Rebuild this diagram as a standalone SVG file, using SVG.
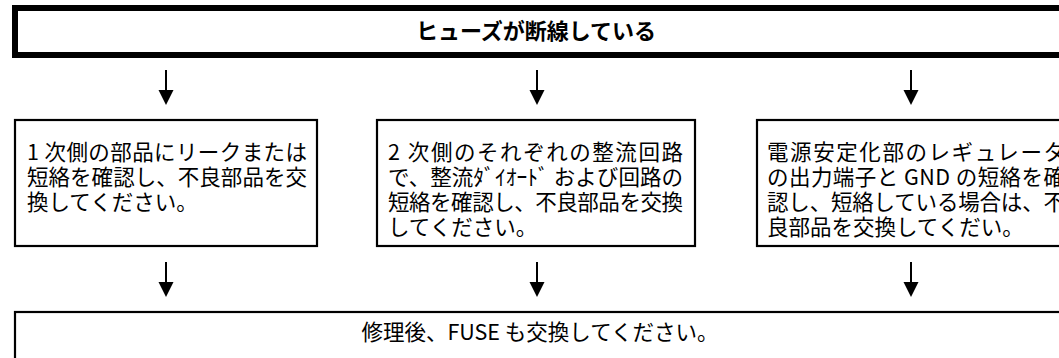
<svg xmlns="http://www.w3.org/2000/svg" width="1059" height="358" viewBox="0 0 1059 358">
<style>
.t{font-family:"Noto Sans CJK JP","Noto Sans",sans-serif;font-size:21.5px;fill:#000}
.b{font-weight:bold;font-size:22px}
.box{fill:#fff;stroke:#000;stroke-width:2.2}
.ln{stroke:#000;stroke-width:2}
</style>
<rect width="1059" height="358" fill="#fff"/>
<g id="title">
<rect x="15" y="8" width="1060" height="47" fill="#fff" stroke="#000" stroke-width="6"/>
<text class="t b" x="536" y="39" text-anchor="middle">ヒューズが断線している</text>
</g>
<g id="connectors">
<line class="ln" x1="166" y1="70" x2="166" y2="92"/>
<path d="M158.5,90 L173.5,90 L166,105 Z"/>
<line class="ln" x1="537" y1="70" x2="537" y2="92"/>
<path d="M529.5,90 L544.5,90 L537,105 Z"/>
<line class="ln" x1="911" y1="70" x2="911" y2="92"/>
<path d="M903.5,90 L918.5,90 L911,105 Z"/>
<line class="ln" x1="166" y1="262" x2="166" y2="284"/>
<path d="M158.5,282 L173.5,282 L166,297 Z"/>
<line class="ln" x1="537" y1="262" x2="537" y2="284"/>
<path d="M529.5,282 L544.5,282 L537,297 Z"/>
<line class="ln" x1="911" y1="262" x2="911" y2="284"/>
<path d="M903.5,282 L918.5,282 L911,297 Z"/>
</g>
<g id="box1">
<rect class="box" x="15" y="120" width="302" height="126"/>
<text class="t" x="27" y="160" textLength="280" lengthAdjust="spacing">1 次側の部品にリークまたは</text>
<text class="t" x="27" y="185" textLength="280" lengthAdjust="spacing">短絡を確認し、不良部品を交</text>
<text class="t" x="27" y="210">換してください。</text>
</g>
<g id="box2">
<rect class="box" x="377" y="120" width="318" height="126"/>
<text class="t" x="388" y="160" textLength="295" lengthAdjust="spacing">2 次側のそれぞれの整流回路</text>
<text class="t" x="388" y="185" textLength="295" lengthAdjust="spacing">で、整流ﾀﾞｲｵｰﾄﾞ および回路の</text>
<text class="t" x="388" y="210" textLength="295" lengthAdjust="spacing">短絡を確認し、不良部品を交換</text>
<text class="t" x="388" y="235">してください。</text>
</g>
<g id="box3">
<rect class="box" x="757" y="120" width="330" height="126"/>
<text class="t" x="767" y="160" textLength="298" lengthAdjust="spacing">電源安定化部のレギュレータ</text>
<text class="t" x="767" y="185" textLength="298" lengthAdjust="spacing">の出力端子と GND の短絡を確</text>
<text class="t" x="767" y="210" textLength="298" lengthAdjust="spacing">認し、短絡している場合は、不</text>
<text class="t" x="767" y="235">良部品を交換してくだい。</text>
</g>
<g id="final">
<rect class="box" x="15" y="312" width="1070" height="80"/>
<text class="t" x="540" y="340" text-anchor="middle">修理後、FUSE も交換してください。</text>
</g>
</svg>
